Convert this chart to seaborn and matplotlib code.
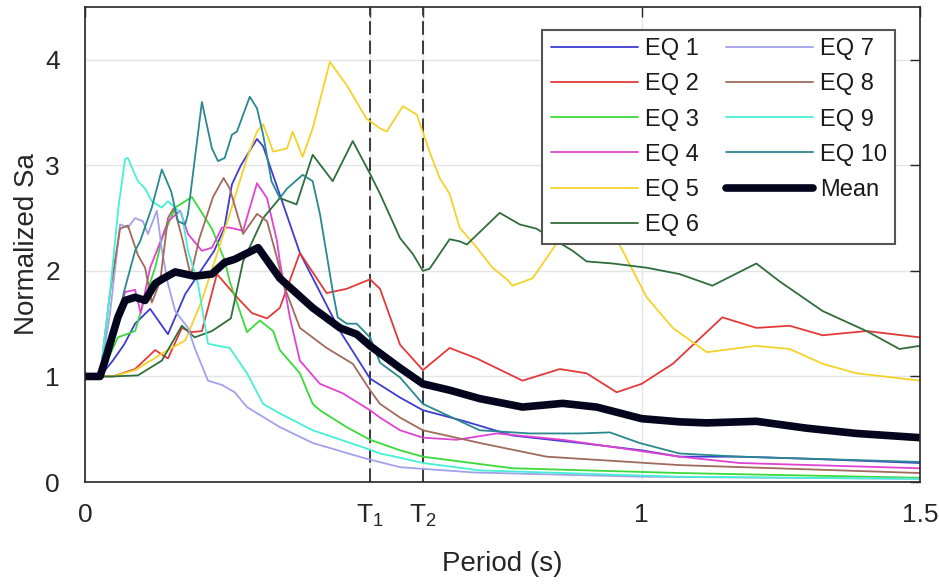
import numpy as np
import pandas as pd
import matplotlib
matplotlib.use("Agg")
import matplotlib.pyplot as plt
import seaborn as sns

# ---------------- data ----------------
T1 = 0.512
T2 = 0.607

eq1_T = [0, 0.027, 0.05, 0.07, 0.09, 0.117, 0.149, 0.18, 0.232, 0.25, 0.264, 0.28, 0.309, 0.32, 0.386, 0.458, 0.512, 0.566, 0.607, 0.679, 0.768, 0.889, 1.0, 1.068, 1.176, 1.3, 1.5]
eq1_Sa = [1.0, 1.0, 1.15, 1.3, 1.5, 1.64, 1.4, 1.78, 2.19, 2.4, 2.82, 3.0, 3.25, 3.18, 2.17, 1.43, 0.98, 0.8, 0.68, 0.58, 0.44, 0.37, 0.3, 0.24, 0.24, 0.22, 0.18]

eq2_T = [0, 0.05, 0.09, 0.126, 0.149, 0.174, 0.192, 0.21, 0.237, 0.273, 0.3, 0.327, 0.35, 0.386, 0.434, 0.47, 0.512, 0.53, 0.566, 0.607, 0.655, 0.704, 0.786, 0.853, 0.901, 0.955, 1.0, 1.056, 1.145, 1.206, 1.266, 1.325, 1.404, 1.5]
eq2_Sa = [1.0, 1.0, 1.07, 1.25, 1.17, 1.46, 1.42, 1.43, 1.97, 1.75, 1.6, 1.55, 1.65, 2.17, 1.79, 1.83, 1.92, 1.83, 1.3, 1.06, 1.27, 1.17, 0.96, 1.07, 1.03, 0.85, 0.93, 1.12, 1.56, 1.46, 1.48, 1.39, 1.43, 1.37]

eq3_T = [0, 0.027, 0.059, 0.09, 0.108, 0.126, 0.138, 0.162, 0.192, 0.228, 0.251, 0.26, 0.291, 0.314, 0.338, 0.35, 0.386, 0.409, 0.422, 0.47, 0.512, 0.566, 0.607, 0.768, 1.068, 1.5]
eq3_Sa = [1.0, 1.0, 1.37, 1.43, 1.75, 2.03, 2.3, 2.6, 2.7, 2.4, 2.1, 1.9, 1.42, 1.53, 1.43, 1.25, 1.03, 0.74, 0.68, 0.52, 0.4, 0.3, 0.24, 0.13, 0.085, 0.04]

eq4_T = [0, 0.027, 0.05, 0.072, 0.09, 0.1, 0.117, 0.138, 0.149, 0.171, 0.185, 0.21, 0.228, 0.246, 0.26, 0.284, 0.309, 0.327, 0.345, 0.35, 0.368, 0.386, 0.422, 0.463, 0.512, 0.53, 0.566, 0.607, 0.668, 0.74, 0.858, 1.068, 1.176, 1.5]
eq4_Sa = [1.0, 1.0, 1.35, 1.8, 1.82, 1.6, 2.03, 2.31, 2.47, 2.57, 2.35, 2.19, 2.22, 2.41, 2.41, 2.38, 2.83, 2.69, 2.28, 2.09, 1.56, 1.15, 0.93, 0.84, 0.68, 0.61, 0.49, 0.42, 0.4, 0.46, 0.4, 0.24, 0.18, 0.13]

eq5_T = [0, 0.05, 0.09, 0.149, 0.18, 0.21, 0.239, 0.26, 0.291, 0.309, 0.32, 0.338, 0.363, 0.373, 0.391, 0.409, 0.44, 0.47, 0.506, 0.53, 0.542, 0.571, 0.596, 0.619, 0.637, 0.655, 0.673, 0.704, 0.732, 0.758, 0.768, 0.804, 0.829, 0.865, 0.915, 0.96, 1.009, 1.056, 1.117, 1.206, 1.266, 1.325, 1.386, 1.5]
eq5_Sa = [1.0, 1.0, 1.06, 1.25, 1.34, 1.72, 2.19, 2.54, 3.07, 3.32, 3.39, 3.13, 3.16, 3.32, 3.08, 3.35, 3.98, 3.76, 3.44, 3.35, 3.32, 3.56, 3.48, 3.13, 2.88, 2.73, 2.41, 2.22, 2.03, 1.92, 1.86, 1.93, 2.12, 2.4, 2.38, 2.25, 1.75, 1.46, 1.23, 1.29, 1.26, 1.12, 1.03, 0.96]

eq6_T = [0, 0.05, 0.095, 0.138, 0.174, 0.197, 0.228, 0.262, 0.284, 0.32, 0.35, 0.38, 0.409, 0.445, 0.481, 0.512, 0.53, 0.566, 0.589, 0.607, 0.619, 0.655, 0.673, 0.686, 0.745, 0.781, 0.811, 0.876, 0.901, 0.948, 1.009, 1.068, 1.127, 1.206, 1.248, 1.325, 1.404, 1.463, 1.5]
eq6_Sa = [1.0, 1.0, 1.01, 1.15, 1.48, 1.37, 1.43, 1.55, 2.09, 2.5, 2.69, 2.63, 3.1, 2.85, 3.23, 2.92, 2.73, 2.31, 2.16, 2.0, 2.02, 2.3, 2.28, 2.25, 2.55, 2.44, 2.4, 2.19, 2.09, 2.07, 2.03, 1.97, 1.86, 2.07, 1.9, 1.62, 1.43, 1.26, 1.29]

eq7_T = [0, 0.027, 0.045, 0.063, 0.077, 0.09, 0.104, 0.113, 0.129, 0.138, 0.149, 0.162, 0.185, 0.197, 0.221, 0.246, 0.269, 0.291, 0.35, 0.409, 0.499, 0.566, 0.7, 0.85, 1.0, 1.5]
eq7_Sa = [1.0, 1.0, 1.6, 2.44, 2.41, 2.5, 2.47, 2.35, 2.57, 2.2, 1.88, 1.62, 1.46, 1.27, 0.96, 0.92, 0.85, 0.71, 0.52, 0.37, 0.23, 0.14, 0.09, 0.07, 0.05, 0.03]

eq8_T = [0, 0.027, 0.045, 0.063, 0.077, 0.095, 0.108, 0.12, 0.135, 0.149, 0.16, 0.175, 0.19, 0.205, 0.23, 0.249, 0.26, 0.284, 0.309, 0.327, 0.345, 0.356, 0.386, 0.434, 0.481, 0.512, 0.53, 0.566, 0.607, 0.709, 0.829, 1.068, 1.5]
eq8_Sa = [1.0, 1.0, 1.8, 2.4, 2.43, 2.15, 2.03, 1.7, 1.9, 2.5, 2.6, 2.3, 1.95, 2.3, 2.7, 2.88, 2.78, 2.35, 2.54, 2.47, 2.12, 1.88, 1.46, 1.27, 1.12, 0.87, 0.74, 0.61, 0.49, 0.37, 0.24, 0.16, 0.085]

eq9_T = [0, 0.027, 0.045, 0.06, 0.072, 0.077, 0.095, 0.108, 0.12, 0.138, 0.149, 0.174, 0.185, 0.203, 0.221, 0.239, 0.26, 0.291, 0.32, 0.35, 0.409, 0.499, 0.53, 0.566, 0.607, 0.709, 1.068, 1.5]
eq9_Sa = [1.0, 1.0, 1.8, 2.6, 3.06, 3.07, 2.85, 2.78, 2.66, 2.6, 2.66, 2.54, 2.19, 1.88, 1.31, 1.29, 1.27, 1.03, 0.74, 0.65, 0.49, 0.33, 0.27, 0.23, 0.18, 0.11, 0.05, 0.03]

eq10_T = [0, 0.027, 0.05, 0.07, 0.09, 0.099, 0.12, 0.138, 0.155, 0.167, 0.18, 0.185, 0.21, 0.228, 0.239, 0.251, 0.264, 0.273, 0.296, 0.309, 0.32, 0.335, 0.35, 0.363, 0.391, 0.409, 0.422, 0.434, 0.445, 0.454, 0.47, 0.488, 0.512, 0.53, 0.566, 0.607, 0.709, 0.799, 0.889, 0.943, 0.996, 1.068, 1.176, 1.5]
eq10_Sa = [1.0, 1.0, 1.3, 1.8, 2.19, 2.28, 2.6, 2.96, 2.75, 2.47, 2.44, 2.54, 3.6, 3.16, 3.04, 3.07, 3.29, 3.32, 3.65, 3.54, 3.29, 2.85, 2.69, 2.78, 2.91, 2.85, 2.54, 2.16, 1.81, 1.56, 1.5, 1.5, 1.37, 1.13, 0.99, 0.74, 0.49, 0.46, 0.46, 0.47, 0.37, 0.27, 0.24, 0.19]

mean_T = [0, 0.027, 0.036, 0.059, 0.072, 0.09, 0.108, 0.126, 0.138, 0.162, 0.197, 0.228, 0.251, 0.269, 0.311, 0.35, 0.409, 0.458, 0.488, 0.512, 0.566, 0.607, 0.655, 0.709, 0.786, 0.858, 0.919, 0.978, 1.0, 1.068, 1.117, 1.206, 1.296, 1.386, 1.5]
mean_Sa = [1.0, 1.0, 1.15, 1.56, 1.72, 1.75, 1.72, 1.88, 1.92, 1.99, 1.95, 1.97, 2.08, 2.11, 2.22, 1.93, 1.65, 1.46, 1.4, 1.29, 1.08, 0.93, 0.87, 0.79, 0.71, 0.745, 0.71, 0.63, 0.6, 0.57, 0.56, 0.575, 0.51, 0.46, 0.42]

names = ["EQ 1", "EQ 2", "EQ 3", "EQ 4", "EQ 5", "EQ 6", "EQ 7", "EQ 8", "EQ 9", "EQ 10"]
colors = ["#3c3cd2", "#e23a3a", "#3ada3a", "#e043d2", "#f4d22a", "#2f6e3c",
          "#a2a2ea", "#a06a5c", "#46f0d4", "#2a8890"]
xtick_vals = [0, T1, T2, 1, 1.5]
xtick_labels = ["0", "T$_1$", "T$_2$", "1", "1.5"]
ytick_vals = [0, 1, 2, 3, 4]

# ---------------- plotting ----------------
sns.set_theme(style="white")
plt.rcParams["font.family"] = ["Liberation Sans", "DejaVu Sans"]
plt.rcParams["mathtext.default"] = "regular"

fig = plt.figure(figsize=(9.39, 5.88), dpi=100)
ax = fig.add_axes([85 / 939, 1 - 482 / 588, (920 - 85) / 939, (482 - 7) / 588])

series_T = [eq1_T, eq2_T, eq3_T, eq4_T, eq5_T, eq6_T, eq7_T, eq8_T, eq9_T, eq10_T]
series_Sa = [eq1_Sa, eq2_Sa, eq3_Sa, eq4_Sa, eq5_Sa, eq6_Sa, eq7_Sa, eq8_Sa, eq9_Sa, eq10_Sa]

for name, col, tt, ss in zip(names, colors, series_T, series_Sa):
    df = pd.DataFrame({"Period": tt, "Sa": ss})
    sns.lineplot(data=df, x="Period", y="Sa", ax=ax, color=col, linewidth=1.3,
                 label=name, sort=False, estimator=None)

dfm = pd.DataFrame({"Period": mean_T, "Sa": mean_Sa})
sns.lineplot(data=dfm, x="Period", y="Sa", ax=ax, color="#05051e", linewidth=5.5,
             label="Mean", sort=False, estimator=None, solid_joinstyle="round")

for tv in (T1, T2):
    ax.axvline(tv, color="#3a3a3a", linewidth=1.4, linestyle=(0, (7, 3)), zorder=1.5)

ax.set_xlim(0, 1.5)
ax.set_ylim(0, 4.5)
ax.set_xticks(xtick_vals)
ax.set_xticklabels(xtick_labels)
ax.set_yticks(ytick_vals)
ax.set_yticklabels([str(v) for v in ytick_vals])
ax.grid(True, color="#e4e4e4", linewidth=1.0)
ax.set_axisbelow(True)
ax.tick_params(direction="in", top=True, right=True, length=7, width=1.0,
               colors="#262626", labelsize=19)
ax.tick_params(axis="x", pad=15)
ax.tick_params(axis="y", pad=18)
for sp in ax.spines.values():
    sp.set_color("#262626")
    sp.set_linewidth(1.2)
    sp.set_visible(True)

ax.set_xlabel("Period (s)", fontsize=20, color="#262626", labelpad=16)
ax.set_ylabel("Normalized Sa", fontsize=20, color="#262626", labelpad=4)

leg = ax.legend(ncol=2, loc="upper right", bbox_to_anchor=(0.970, 0.952),
                borderaxespad=0, fontsize=17, frameon=True, fancybox=False,
                framealpha=1, edgecolor="#555555", handlelength=3.7,
                handletextpad=0.28, columnspacing=1.15, labelspacing=0.56,
                borderpad=0.35)
leg.get_frame().set_linewidth(1.5)
for t in leg.get_texts():
    t.set_color("#1a1a1a")

fig.savefig("out.png", dpi=100, facecolor="white")
